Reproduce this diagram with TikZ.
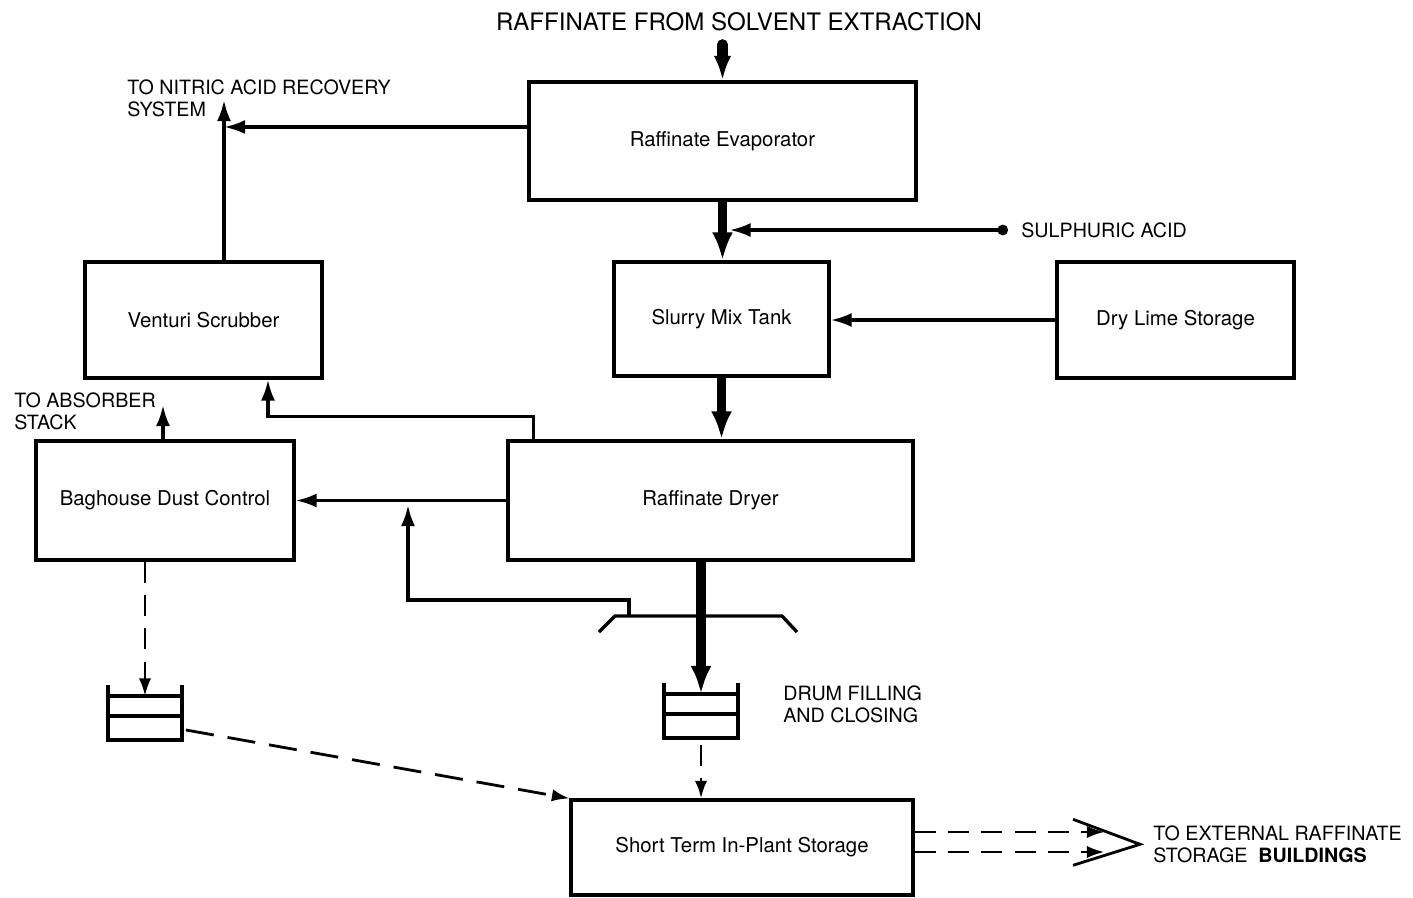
\documentclass[tikz,border=0pt]{standalone}
\usepackage{fontspec}
\setmainfont{TeX Gyre Heros}
\usetikzlibrary{positioning,arrows.meta,calc}

\tikzset{
  every node/.style={font=\fontsize{11.2}{13}\selectfont},
  unit/.style={
    rectangle, draw, line width=1.8pt,
    align=center, font=\fontsize{11.6}{14}\selectfont
  },
  flow/.style={
    -{Latex[length=12pt,width=8pt]},
    line width=1.9pt
  },
  bulk/.style={
    -{Latex[length=16pt,width=12pt]},
    line width=5.5pt
  },
  transfer/.style={
    -{Latex[length=10pt,width=7pt]},
    line width=1.6pt, dash pattern=on 12pt off 7pt
  },
  tag/.style={align=left, inner sep=0pt, anchor=north west},
  drum/.pic={
    \draw[line width=1.8pt] (-37,-27) -- (-37,28) -- (37,28) -- (37,-27);
    \draw[line width=1.8pt] (-37,-16) -- (37,-16) (-37,4) -- (37,4);
    \coordinate (-top) at (0,-16);
    \coordinate (-bottom) at (0,28);
    \coordinate (-side) at (41,18);
  },
}

\begin{document}
\begin{tikzpicture}[x=0.02cm, y=-0.02cm]
  \useasboundingbox (0,0) rectangle (1413,897);

  % process units
  \node[unit, minimum width=7.74cm, minimum height=2.36cm] (evap) at (722.5,141) {Raffinate Evaporator};
  \node[unit, minimum width=4.74cm, minimum height=2.32cm] (venturi) at (203.5,320) {Venturi Scrubber};
  \node[unit, minimum width=4.30cm, minimum height=2.28cm] (slurry) at (721.5,319) {Slurry Mix Tank};
  \node[unit, minimum width=4.74cm, minimum height=2.32cm] (lime) at (1175.5,320) {Dry Lime Storage};
  \node[unit, minimum width=5.16cm, minimum height=2.38cm] (baghouse) at (165,500.5) {Baghouse Dust Control};
  \node[unit, minimum width=8.10cm, minimum height=2.38cm] (dryer) at (710.5,500.5) {Raffinate Dryer};
  \node[unit, minimum width=6.84cm, minimum height=1.90cm] (store) at (742,847.5) {Short Term In-Plant Storage};

  \pic (drumA) at (145,712) {drum};
  \pic (drumB) at (701,710) {drum};

  % stream labels
  \node[font=\fontsize{13.7}{16}\selectfont] (feed) at (739,22) {RAFFINATE FROM SOLVENT EXTRACTION};
  \node[tag] (nitric) at (127,79) {TO NITRIC ACID RECOVERY\\SYSTEM};
  \node[tag] (absorber) at (14,392) {TO ABSORBER\\STACK};
  \node[tag, anchor=west] (acid) at (1021,230) {SULPHURIC ACID};
  \node[tag] (drumfill) at (783,685) {DRUM FILLING\\AND CLOSING};
  \node[tag] (external) at (1153,825) {TO EXTERNAL RAFFINATE\\STORAGE\ \ \textbf{BUILDINGS}};

  \coordinate (nitricout) at (224,100);
  \coordinate (nitrictee) at (224,127);
  \coordinate (stackout) at (163,405);
  \coordinate (hood) at (629,616);
  \coordinate (recycle) at (408,505);

  % main liquid / solids line
  \draw[-{Latex[length=14pt,width=10pt]}, line width=6pt, line cap=round, shorten <=4pt] (feed.south -| evap.north) -- (evap.north);
  \draw[bulk] (evap.south) -- (evap.south |- slurry.north);
  \draw[{Circle[length=6pt,width=6pt]}-{Latex[length=12pt,width=8pt]}, line width=1.9pt, shorten >=4pt] ([xshift=-0.26cm]acid.west) -- (acid.west -| evap.south);
  \draw[flow] (lime.west) -- (lime.west -| slurry.east);
  \draw[bulk] (slurry.south) -- (slurry.south |- dryer.north);
  \draw[bulk] (drumB-top |- dryer.south) -- (drumB-top);

  % off-gas
  \draw[flow] (evap.west |- nitrictee) -- (nitrictee);
  \draw[flow] (nitricout |- venturi.north) -- (nitricout);
  \draw[flow] ([xshift=0.54cm]dryer.north west) |- ([xshift=1.29cm,yshift=-0.74cm]venturi.south) -- ([xshift=1.29cm]venturi.south);
  \draw[flow] (dryer.west) -- (baghouse.east);
  \draw[flow] (stackout |- baghouse.north) -- (stackout);

  % drum filling hood
  \draw[line width=1.9pt] (599,632) -- (615,616) -- (782,616) -- (797,632);
  \draw[flow] (hood) -- ++(0,0.32cm) -| (recycle);

  % drum transfers
  \draw[transfer] (drumA-top |- baghouse.south) -- (drumA-top);
  \draw[transfer, dash pattern=on 16pt off 8pt] (drumA-side) -- (store.north west);
  \draw[transfer] ([yshift=-0.14cm]drumB-bottom) -- (drumB-bottom |- store.north);
  \draw[transfer] ([yshift=0.31cm]store.east) -- ++(3.8cm,0);
  \draw[transfer] ([yshift=-0.09cm]store.east) -- ++(3.8cm,0);
  \draw[line width=1.6pt] ([xshift=-0.26cm]external.west) ++(-67,-25) -- ++(67,25) -- ++(-67,21);
\end{tikzpicture}
\end{document}
